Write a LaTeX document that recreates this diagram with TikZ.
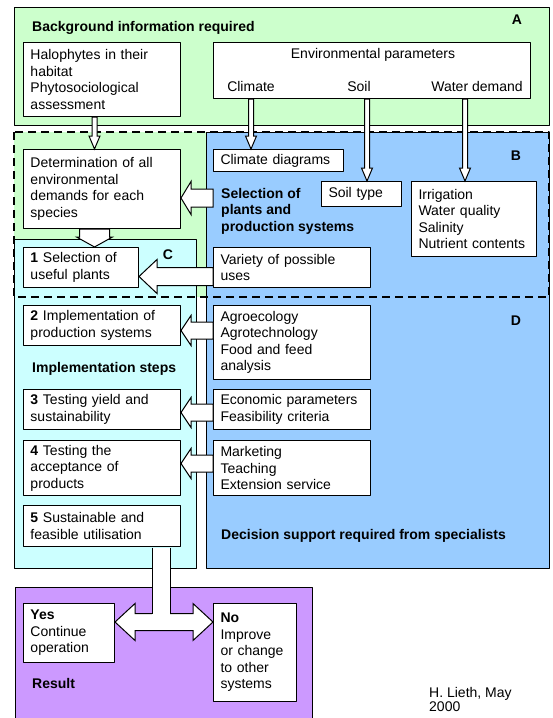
\documentclass[tikz,border=0pt]{standalone}
\usepackage{fontspec}
\setmainfont{Liberation Sans}
\usetikzlibrary{calc}

\definecolor{bggreen}{HTML}{CCFFCC}
\definecolor{bgblue}{HTML}{99CCFF}
\definecolor{bgcyan}{HTML}{CCFFFF}
\definecolor{bgviolet}{HTML}{CC99FF}

\tikzset{
  box/.style 2 args={draw, fill=white, line width=1pt, anchor=north west, align=left,
    inner xsep=7pt, inner ysep=4pt, text width=#1, minimum height=#2},
  region/.style={draw, line width=0.8pt},
  hollow/.style={draw, fill=white, line width=1pt, line join=miter},
  lbl/.style={font=\fontsize{14}{16.5}\selectfont\bfseries, inner sep=0pt},
}

% from, to, half shaft, half head, head length
\newcommand{\blockarrow}[5]{%
  \path ($#2!#5!#1$) coordinate (ba);
  \draw[hollow] ($#1!#3!90:#2$) -- ($(ba)!#3!90:#2$) -- ($(ba)!#4!90:#2$) -- #2
    -- ($(ba)!#4!-90:#2$) -- ($(ba)!#3!-90:#2$) -- ($#1!#3!-90:#2$) -- cycle;
}
\newcommand{\twowayarrow}[5]{%
  \path ($#1!#5!#2$) coordinate (da) ($#2!#5!#1$) coordinate (db);
  \draw[hollow] #1 -- ($(da)!#4!90:#2$) -- ($(da)!#3!90:#2$) -- ($(db)!#3!90:#2$)
    -- ($(db)!#4!90:#2$) -- #2 -- ($(db)!#4!-90:#2$) -- ($(db)!#3!-90:#2$)
    -- ($(da)!#3!-90:#2$) -- ($(da)!#4!-90:#2$) -- cycle;
}

\begin{document}
\begin{tikzpicture}[x=1pt, y=-1pt, font=\fontsize{14}{16.5}\selectfont, line join=round]
    \useasboundingbox (0,0) rectangle (553,718);
    % regions
    \draw[region, fill=bggreen] (14,7) rectangle (549,125);
    \fill[bggreen] (14,132) rectangle (206,297);
    \draw[region, fill=bgblue] (206,132) rectangle (549,568);
    \draw[region, fill=bgcyan] (14,239) rectangle (196,568);
    \draw[region, fill=bgviolet] (15,587) rectangle (312,730);
    \draw[line width=2pt, dash pattern=on 8pt off 5pt] (14,132) rectangle (549,297);

    \node[lbl, anchor=west] (titleA) at (32,28) {Background information required};
    \node[lbl] (tagA) at (517,20) {A};
    \node[lbl] (tagB) at (516,156) {B};
    \node[lbl] (tagC) at (168,255) {C};
    \node[lbl] (tagD) at (516,321) {D};

    \node[box={143pt}{74pt}] (halo) at (23,42) {Halophytes in their\\habitat\\Phytosociological\\assessment};
    \node[draw, fill=white, line width=1pt, anchor=north west, minimum width=317pt, minimum height=56pt, inner sep=0pt] (env) at (213,42) {};
    \node (envt) at (373,55) {Environmental parameters};
    \node (clim) at (251,86) {Climate};
    \node (soil) at (359,86) {Soil};
    \node (water) at (477,86) {Water demand};

    \node[box={143pt}{79pt}] (det) at (23,149) {Determination of all\\environmental\\demands for each\\species};
    \node[box={116pt}{22pt}] (cdiag) at (213,149) {Climate diagrams};
    \node[box={66pt}{25pt}] (soilt) at (321,181) {Soil type};
    \node[box={111pt}{75pt}] (irri) at (411,181) {Irrigation\\Water quality\\Salinity\\Nutrient contents};
    \node[lbl, anchor=north west, align=left] (selp) at (221,188) {Selection of\\plants and\\production systems};
    \node[box={101pt}{40pt}] (sel1) at (23,247) {\textbf{1} Selection of\\useful plants};
    \node[box={143pt}{40pt}] (var) at (213,247) {Variety of possible\\uses};

    \node[box={143pt}{40pt}] (imp2) at (23,305) {\textbf{2} Implementation of\\production systems};
    \node[box={143pt}{74pt}] (agro) at (213,305) {Agroecology\\Agrotechnology\\Food and feed\\analysis};
    \node[lbl, anchor=west] (steps) at (32,369) {Implementation steps};
    \node[box={143pt}{40pt}] (imp3) at (23,389) {\textbf{3} Testing yield and\\sustainability};
    \node[box={143pt}{40pt}] (econ) at (213,389) {Economic parameters\\Feasibility criteria};
    \node[box={143pt}{55pt}] (imp4) at (23,440) {\textbf{4} Testing the\\acceptance of\\products};
    \node[box={143pt}{55pt}] (mark) at (213,440) {Marketing\\Teaching\\Extension service};
    \node[box={143pt}{41pt}] (imp5) at (23,505) {\textbf{5} Sustainable and\\feasible utilisation};
    \node[lbl, anchor=west] (dec) at (221,536) {Decision support required from specialists};

    \node[box={77pt}{59pt}] (yes) at (23,603) {\textbf{Yes}\\Continue\\operation};
    \node[box={69pt}{98pt}] (no) at (213,603) {\textbf{No}\\Improve\\or change\\to other\\systems};
    \node[lbl, anchor=west] (res) at (32,683) {Result};
    \node[anchor=north west, align=left, inner sep=0pt, font=\fontsize{14}{14}\selectfont] (sig) at (429,687) {H. Lieth, May\\2000};

    % thin arrows
    \coordinate (h1) at ($(halo.south)+(-7.5,0)$);
    \coordinate (s1) at ($(soil |- env.south)+(8,0)$);
    \coordinate (w1) at ($(water |- env.south)+(-12,0)$);
    \blockarrow{(h1)}{(h1 |- det.north)}{2.5pt}{5.5pt}{13pt}
    \blockarrow{(clim |- env.south)}{(clim |- cdiag.north)}{2.5pt}{5.5pt}{13pt}
    \blockarrow{(s1)}{(s1 |- soilt.north)}{2.5pt}{5.5pt}{13pt}
    \blockarrow{(w1)}{(w1 |- irri.north)}{2.5pt}{5.5pt}{13pt}

    % block arrows
    \coordinate (a0) at ([yshift=-9pt]det.east);
    \coordinate (a1) at ([yshift=-9pt]sel1.east);
    \coordinate (a2) at ([yshift=-5pt]imp2.east);
    \coordinate (a3) at ([yshift=-3pt]imp3.east);
    \coordinate (a4) at ([yshift=4.5pt]imp4.east);
    \blockarrow{(cdiag.west |- a0)}{(a0)}{9pt}{16.5pt}{10pt}
    \blockarrow{(h1 |- det.south)}{(h1 |- sel1.north)}{15pt}{18pt}{10pt}
    \blockarrow{(var.west |- a1)}{(a1)}{9pt}{17pt}{18pt}
    \blockarrow{(agro.west |- a2)}{(a2)}{8.5pt}{15pt}{10pt}
    \blockarrow{(econ.west |- a3)}{(a3)}{8.5pt}{15pt}{10pt}
    \blockarrow{(mark.west |- a4)}{(a4)}{8.5pt}{15pt}{10pt}

    \coordinate (r0) at ([yshift=11pt]yes.east);
    \twowayarrow{(r0)}{(no.west |- r0)}{8.5pt}{18.5pt}{20pt}
    \coordinate (b1) at ($(imp5.south west)+(129,0.5)$);
    \coordinate (b2) at ($(b1)+(18,0)$);
    \fill[white] (b1) rectangle ($(b2 |- r0)+(0,-7.5)$);
    \draw[line width=1pt] (b1) -- ($(b1 |- r0)+(0,-8.5)$) (b2) -- ($(b2 |- r0)+(0,-8.5)$);
\end{tikzpicture}
\end{document}
